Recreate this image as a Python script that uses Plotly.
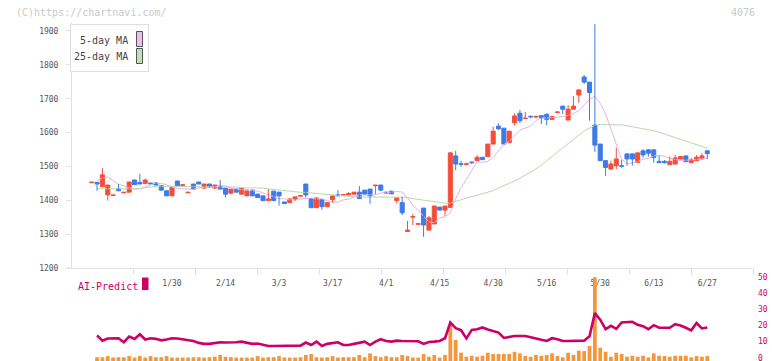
import plotly.graph_objects as go

# ---------------- data ----------------
tick_idx = [15, 25, 35, 45, 55, 65, 75, 85, 95, 105, 115]
tick_labels = ["1/30", "2/14", "3/3", "3/17", "4/1", "4/15", "4/30", "5/16", "5/30", "6/13", "6/27"]

opens = [1452, 1453, 1440, 1416, 1414, 1433, 1422, 1424, 1460, 1453, 1450, 1451, 1451, 1443, 1428, 1413,
         1457, 1444, 1422, 1448, 1454, 1436, 1448, 1436, 1442, 1436, 1421, 1433, 1418, 1413, 1430, 1418,
         1413, 1399, 1427, 1424, 1395, 1393, 1402, 1412, 1448, 1405, 1378, 1402, 1381, 1402, 1416, 1415,
         1416, 1418, 1424, 1430, 1433, 1443, 1445, 1424, 1427, 1399, 1393, 1308, 1350, 1329, 1377, 1312,
         1330, 1380, 1371, 1379, 1531, 1508, 1506, 1513, 1517, 1527, 1529, 1566, 1619, 1613, 1570, 1629,
         1657, 1641, 1648, 1646, 1650, 1654, 1639, 1659, 1678, 1637, 1669, 1711, 1764, 1749, 1622, 1566,
         1517, 1492, 1502, 1502, 1537, 1537, 1512, 1546, 1549, 1549, 1515, 1515, 1505, 1507, 1522, 1531,
         1511, 1517, 1522, 1546]
highs = [1454, 1453, 1495, 1445, 1416, 1448, 1424, 1454, 1460, 1478, 1464, 1451, 1454, 1443, 1428, 1438,
         1457, 1446, 1424, 1448, 1454, 1448, 1448, 1445, 1460, 1436, 1433, 1433, 1436, 1430, 1430, 1420,
         1413, 1433, 1427, 1424, 1396, 1404, 1410, 1414, 1448, 1405, 1407, 1402, 1393, 1413, 1430, 1417,
         1424, 1424, 1442, 1430, 1433, 1445, 1445, 1425, 1427, 1407, 1410, 1339, 1360, 1331, 1377, 1354,
         1383, 1380, 1383, 1541, 1546, 1517, 1511, 1514, 1533, 1527, 1566, 1617, 1627, 1613, 1604, 1657,
         1667, 1661, 1650, 1649, 1650, 1657, 1647, 1663, 1678, 1681, 1708, 1726, 1770, 1749, 1920, 1566,
         1517, 1517, 1555, 1519, 1537, 1537, 1540, 1551, 1551, 1549, 1532, 1519, 1529, 1534, 1530, 1531,
         1525, 1534, 1539, 1546]
lows = [1452, 1428, 1440, 1399, 1414, 1428, 1422, 1424, 1446, 1448, 1450, 1448, 1445, 1428, 1413, 1413,
        1443, 1444, 1422, 1433, 1448, 1436, 1439, 1433, 1433, 1408, 1418, 1424, 1418, 1413, 1413, 1408,
        1399, 1399, 1399, 1384, 1389, 1393, 1398, 1412, 1408, 1378, 1378, 1372, 1381, 1393, 1413, 1415,
        1416, 1416, 1405, 1418, 1390, 1418, 1427, 1421, 1419, 1390, 1356, 1308, 1327, 1329, 1292, 1312,
        1330, 1371, 1354, 1379, 1489, 1499, 1503, 1507, 1517, 1520, 1529, 1566, 1608, 1566, 1570, 1620,
        1628, 1641, 1642, 1642, 1625, 1622, 1639, 1658, 1655, 1637, 1669, 1688, 1744, 1635, 1543, 1517,
        1472, 1492, 1492, 1496, 1502, 1502, 1512, 1526, 1529, 1511, 1511, 1509, 1505, 1507, 1521, 1514,
        1511, 1517, 1522, 1522]
closes = [1454, 1448, 1475, 1445, 1416, 1428, 1424, 1454, 1446, 1448, 1460, 1448, 1445, 1430, 1413, 1438,
          1443, 1446, 1424, 1433, 1448, 1448, 1439, 1445, 1433, 1418, 1433, 1424, 1436, 1430, 1413, 1408,
          1399, 1404, 1399, 1413, 1390, 1404, 1410, 1414, 1416, 1378, 1407, 1381, 1393, 1413, 1413, 1417,
          1420, 1424, 1405, 1418, 1413, 1445, 1430, 1421, 1419, 1407, 1363, 1312, 1352, 1331, 1327, 1348,
          1383, 1371, 1383, 1540, 1507, 1506, 1508, 1511, 1527, 1520, 1566, 1604, 1611, 1566, 1604, 1649,
          1635, 1643, 1646, 1648, 1643, 1639, 1647, 1661, 1669, 1669, 1678, 1726, 1749, 1718, 1563, 1517,
          1497, 1507, 1522, 1500, 1522, 1522, 1540, 1534, 1539, 1526, 1511, 1511, 1515, 1525, 1529, 1514,
          1519, 1527, 1531, 1538]

# 5-day and 25-day moving averages as drawn (points from the 2nd candle on)
ma5 = [1458, 1466, 1469, 1458, 1447.4, 1442.4, 1437.5, 1433.3, 1433.5, 1439.9, 1446.3, 1451.2, 1449.4,
       1446.2, 1439.2, 1434.8, 1433.8, 1433.8, 1432.5, 1436.5, 1438.5, 1439.5, 1438.3, 1442.6, 1442.6,
       1436.6, 1433.6, 1430.6, 1428.8, 1428.2, 1427.2, 1422.1, 1417.1, 1410.7, 1404.4, 1404.5, 1401, 1402,
       1403.2, 1406, 1406.4, 1404, 1404.6, 1398.8, 1394.9, 1394.3, 1401.2, 1403, 1410.8, 1417, 1415.4,
       1416.6, 1416.2, 1421.2, 1422.3, 1425.6, 1425.8, 1424.4, 1408, 1384.4, 1370.4, 1352.5, 1336.6,
       1333.5, 1347.7, 1351.7, 1362.3, 1405, 1436.9, 1461.5, 1488.7, 1514.5, 1511.8, 1514.4, 1526.4,
       1545.9, 1565.7, 1573.5, 1590.4, 1607, 1613.1, 1619.4, 1635.6, 1644.1, 1642.8, 1643.6, 1644.5,
       1647.1, 1651.4, 1656.6, 1664.4, 1680.2, 1698, 1707.8, 1686.7, 1654.7, 1608.8, 1560.4, 1521.2,
       1508.8, 1509.8, 1514.8, 1521.4, 1523.8, 1531.4, 1532.2, 1530, 1524.2, 1520.4, 1517.6, 1518.2,
       1518.8, 1520.4, 1522.8, 1524]
ma25 = [1434, 1434, 1434, 1434, 1434, 1434, 1434, 1434, 1434, 1437, 1440, 1441, 1441, 1441, 1441, 1441,
        1441, 1441, 1441, 1441, 1441, 1441, 1441, 1441,
        1441.1, 1439.7, 1439.1, 1437.1, 1436.7, 1437.3, 1436.7, 1436, 1433.8, 1432.2, 1430.2, 1428.3,
        1426, 1424.4, 1423.6, 1423.5, 1422.6, 1420, 1418.5, 1416.8, 1415.2, 1413.8, 1412.4, 1411.4, 1410.4,
        1410.1, 1409.6, 1409, 1408.6, 1408.9, 1408.9, 1409.2, 1409.7, 1410, 1408.4, 1404.9, 1402.4, 1400,
        1397, 1394.5, 1393.3, 1391.5, 1391.7, 1397, 1402.1, 1406.6, 1410.4, 1414.4, 1418.8, 1422.8, 1428.5,
        1436.5, 1444.2, 1450.3, 1456.7, 1465.4, 1474, 1482.9, 1492.5, 1503.9, 1517.1, 1528.6, 1541.3,
        1554.6, 1567.5, 1578.9, 1591.2, 1604.9, 1613.2, 1621.6, 1623.9, 1624.3, 1623.7, 1622.9, 1623,
        1620.4, 1617.1, 1613.5, 1612.5, 1609.7, 1605.3, 1600.9, 1595.7, 1590.2, 1585, 1580.2, 1575.8,
        1570.5, 1564.9, 1559.2, 1553.7]

# AI-Predict panel (from the 2nd candle on)
ai_line = [13.9, 10.6, 11.9, 12.1, 12.1, 9.6, 13.2, 11.7, 14.6, 11.3, 12.1, 11.7, 10.8, 11.3, 12.1, 11.9,
           11.3, 10.6, 10.4, 9.2, 8.6, 8.6, 9.2, 9.6, 9.4, 9.4, 9.6, 10.0, 9.2, 8.6, 8.8, 7.9, 7.3, 7.3,
           7.3, 7.3, 7.3, 7.3, 7.5, 9.4, 7.9, 10.0, 7.3, 8.6, 9.2, 9.6, 7.9, 7.9, 8.6, 9.2, 10.0, 7.9, 10.0,
           11.5, 10.4, 10.0, 10.6, 10.4, 10.4, 10.4, 10.2, 8.6, 9.8, 10.0, 10.4, 12.1, 21.9, 18.4, 17.1,
           12.0, 17.3, 17.7, 18.8, 17.5, 16.5, 15.6, 12.3, 13.1, 13.5, 13.5, 13.5, 12.7, 11.7, 11.1, 10.4,
           12.1, 11.5, 10.4, 10.4, 10.4, 10.8, 10.6, 13.3, 27.7, 23.6, 17.7, 19.8, 17.9, 21.9, 22.1, 22.3,
           20.4, 19.6, 17.7, 20.2, 18.6, 18.4, 18.6, 20.8, 20.0, 18.6, 17.0, 21.5, 18.2, 18.8]
ai_bars = [0.3, 0.3, 1.0, 0.1, 0.3, 0.3, 1.0, 0.1, 1.0, 0.1, 1.0, 0.3, 0.3, 1.0, 0.1, 0.1, 0.1, 0.1,
           0.3, 0.3, 0.1, 0.3, 0.6, 1.7, 0.6, 0.3, 0.1, 0.1, 0.1, 0.1, 1.0, 0.1, 0.3, 0.3, 1.0, 0.1, 0.1,
           0.1, 0.3, 1.7, 2.3, 0.3, 0.1, 0.3, 1.0, 0.1, 0.3, 0.3, 0.3, 1.7, 0.3, 2.7, 1.0, 0.3, 1.0, 0.3,
           0.3, 1.7, 1.0, 0.1, 0.1, 2.3, 0.6, 1.7, 0.1, 1.7, 20.3, 11.0, 3.1, 0.6, 1.2, 0.6, 1.2, 3.1, 2.3,
           2.3, 2.3, 2.3, 3.7, 2.7, 1.2, 0.6, 1.7, 1.2, 1.7, 2.7, 1.0, 0.2, 3.1, 1.7, 4.4, 4.1, 7.3, 50,
           6.2, 3.7, 0.6, 3.1, 2.3, 0.6, 1.2, 0.6, 1.2, 0.2, 2.7, 1.2, 1.0, 0.6, 1.2, 1.2, 1.2, 0.2, 1.0,
           0.6, 1.0]

# ---------------- figure ----------------
W, H = 772, 361
RED, BLUE = "#f44e3b", "#3d7be8"
MAG, ORANGE = "#cc0066", "#f4963a"
FONT = "DejaVu Sans Mono"

def px(x):
    return x / W

def py(y):
    return 1 - y / H

n = len(closes)
idx = list(range(n))
ma_x = list(range(1, 1 + len(ma5)))
ma25_x = list(range(1, 1 + len(ma25)))
ai_x = list(range(1, 1 + len(ai_line)))
bar_x = list(range(1, 1 + len(ai_bars)))

x_lo, x_hi = -3.68, 123.54
ax_left, ax_right = 72, 753

fig = go.Figure()

# moving averages (behind candles)
fig.add_trace(go.Scatter(x=ma25_x, y=ma25, mode="lines", line=dict(color="#b5dba8", width=1),
                         xaxis="x", yaxis="y", hoverinfo="skip"))
fig.add_trace(go.Scatter(x=ma_x, y=ma5, mode="lines", line=dict(color="#e8b2ec", width=1),
                         xaxis="x", yaxis="y", hoverinfo="skip"))

# wicks
for col, up in ((RED, True), (BLUE, False)):
    wx, wy = [], []
    for i in idx:
        if (closes[i] >= opens[i]) == up:
            wx += [i, i, None]
            wy += [lows[i], highs[i], None]
    fig.add_trace(go.Scatter(x=wx, y=wy, mode="lines", line=dict(color=col, width=1),
                             xaxis="x", yaxis="y", hoverinfo="skip"))

# bodies
body_base = [min(o, c) for o, c in zip(opens, closes)]
body_len = [abs(c - o) for o, c in zip(opens, closes)]
body_col = [RED if c >= o else BLUE for o, c in zip(opens, closes)]
fig.add_trace(go.Bar(x=idx, y=body_len, base=body_base, width=0.76,
                     marker=dict(color=body_col, line=dict(color=body_col, width=1)),
                     xaxis="x", yaxis="y", hoverinfo="skip"))

# tick-mark axis helper trace
fig.add_trace(go.Scatter(x=[x_lo], y=[1200], mode="markers", marker=dict(opacity=0),
                         xaxis="x3", yaxis="y", hoverinfo="skip"))

# AI-Predict panel
fig.add_trace(go.Bar(x=bar_x, y=[v + 2.05 for v in ai_bars], base=-2.05, width=0.7,
                     marker=dict(color=ORANGE, line=dict(width=0)),
                     xaxis="x2", yaxis="y2", hoverinfo="skip"))
fig.add_trace(go.Scatter(x=ai_x, y=ai_line, mode="lines", line=dict(color=MAG, width=2.6),
                         xaxis="x2", yaxis="y2", hoverinfo="skip"))

# evenly spaced decorative tick marks on the bottom axis
step = (x_hi - x_lo) / 11
deco_ticks = [x_lo + step * k for k in range(1, 12)]

fig.update_layout(
    width=W, height=H, margin=dict(l=0, r=0, t=0, b=0, autoexpand=False),
    paper_bgcolor="white", plot_bgcolor="white", showlegend=False, barmode="overlay",
    font=dict(family=FONT, color="#555"), hovermode=False,
    xaxis=dict(domain=[px(ax_left), px(ax_right)], range=[x_lo, x_hi], anchor="y", automargin=False,
               showgrid=False, zeroline=False, showline=True, linecolor="#e2e2e2", linewidth=1,
               ticks="", tickvals=tick_idx, ticktext=tick_labels, ticklabelstandoff=7,
               tickfont=dict(size=8, color="#555", family=FONT)),
    xaxis3=dict(domain=[px(ax_left), px(ax_right)], range=[x_lo, x_hi], anchor="y", automargin=False,
                overlaying="x", side="bottom", showgrid=False, zeroline=False, showline=False,
                ticks="outside", ticklen=6, tickcolor="#e2e2e2", tickwidth=1,
                tickvals=deco_ticks, showticklabels=False),
    yaxis=dict(domain=[py(268), py(22)], range=[1200, 1926.5], anchor="x", automargin=False,
               showgrid=False, zeroline=False, showline=True, linecolor="#e2e2e2", linewidth=1,
               ticks="outside", ticklen=5, tickcolor="#e2e2e2",
               tickvals=[1200, 1300, 1400, 1500, 1600, 1700, 1800, 1900], ticklabelstandoff=6,
               tickfont=dict(size=8, color="#555", family=FONT)),
    xaxis2=dict(domain=[px(ax_left), px(ax_right)], range=[x_lo, x_hi], anchor="y2", visible=False,
                automargin=False),
    yaxis2=dict(domain=[0, py(270)], range=[-2.05, 54.5], anchor="x2", side="right", automargin=False,
                showgrid=False, zeroline=False, showline=False, ticks="",
                tickvals=[0, 10, 20, 30, 40, 50], ticklabelstandoff=4, ticklabeloverflow="allow",
                tickfont=dict(size=8, color=MAG, family=FONT)),
)

shapes = [
    # extension of the bottom axis line to the left
    dict(type="line", xref="paper", yref="paper", x0=px(65), x1=px(ax_left), y0=py(268), y1=py(268),
         line=dict(color="#e2e2e2", width=1)),
    # legend box
    dict(type="rect", xref="paper", yref="paper", x0=px(70.5), x1=px(148.5), y0=py(71.5), y1=py(24.5),
         line=dict(color="#dddddd", width=1), fillcolor="white", layer="above"),
    dict(type="rect", xref="paper", yref="paper", x0=px(136.5), x1=px(142.5), y0=py(46.5), y1=py(31.5),
         line=dict(color="#555555", width=1), fillcolor="#efbdf0", layer="above"),
    dict(type="rect", xref="paper", yref="paper", x0=px(136.5), x1=px(142.5), y0=py(63.5), y1=py(48.5),
         line=dict(color="#555555", width=1), fillcolor="#bfe0b4", layer="above"),
    # AI-Predict marker
    dict(type="rect", xref="paper", yref="paper", x0=px(142), x1=px(148.5), y0=py(290), y1=py(277.5),
         line=dict(width=0), fillcolor=MAG, layer="above"),
]
fig.update_layout(shapes=shapes)

annotations = [
    dict(text="(C)https://chartnavi.com/", x=px(14), y=py(12.5), xanchor="left", yanchor="middle",
         font=dict(size=10, color="#c8c8c8", family=FONT)),
    dict(text="4076", x=px(757), y=py(12.5), xanchor="right", yanchor="middle",
         font=dict(size=10, color="#c8c8c8", family=FONT)),
    dict(text="5-day MA", x=px(130), y=py(40), xanchor="right", yanchor="middle",
         font=dict(size=10, color="#444", family=FONT)),
    dict(text="25-day MA", x=px(130), y=py(56.5), xanchor="right", yanchor="middle",
         font=dict(size=10, color="#444", family=FONT)),
    dict(text="AI-Predict", x=px(75.5), y=py(286), xanchor="left", yanchor="middle",
         font=dict(size=10, color=MAG, family=FONT)),
]
for a in annotations:
    a.update(xref="paper", yref="paper", showarrow=False)
fig.update_layout(annotations=annotations)

fig.write_html("out.html", config={"displayModeBar": False, "staticPlot": True},
               post_script="document.body.style.margin='0px';document.body.style.overflow='hidden';")
